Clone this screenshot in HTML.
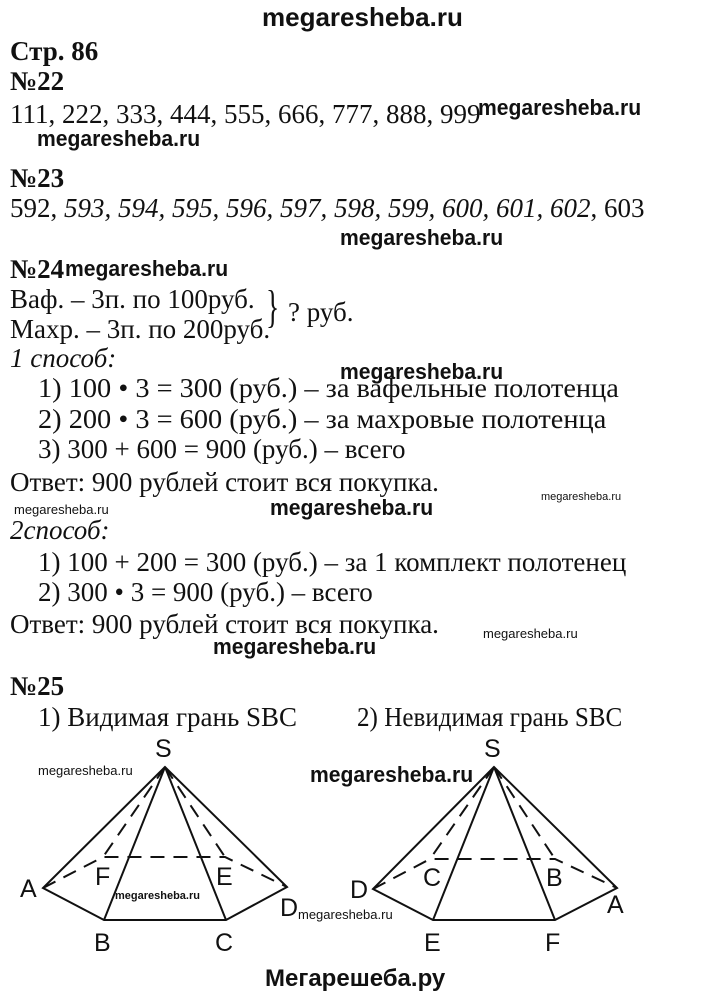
<!DOCTYPE html>
<html><head><meta charset="utf-8"><style>
body{margin:0;width:720px;height:1000px;background:#fff;position:relative;overflow:hidden;font-family:"Liberation Serif",serif;color:#111}
.t{position:absolute;white-space:nowrap;font-size:27px;line-height:28px;transform-origin:0 50%}
.b{font-weight:bold}
.i{font-style:italic}
.x{transform:scaleX(1.05)}
.w{position:absolute;white-space:nowrap;font-family:"Liberation Sans",sans-serif;font-weight:bold;font-size:22px;line-height:22px;transform:scaleX(0.96);transform-origin:0 50%}
.ws{position:absolute;white-space:nowrap;font-family:"Liberation Sans",sans-serif;font-size:13px;line-height:14px}
</style></head><body>
<div class="w" style="left:262px;top:3px;font-size:26px;line-height:28px;transform:none">megaresheba.ru</div>
<div class="t b" style="left:10px;top:37px">Стр. 86</div>
<div class="t b" style="left:10px;top:67px">№22</div>
<div class="t" style="left:10px;top:100px">111, 222, 333, 444, 555, 666, 777, 888, 999</div>
<div class="w" style="left:478px;top:97px">megaresheba.ru</div>
<div class="w" style="left:37px;top:128px">megaresheba.ru</div>
<div class="t b" style="left:10px;top:164px">№23</div>
<div class="t" style="left:10px;top:194px">592, <i>593, 594, 595, 596, 597, 598, 599, 600, 601, 602</i>, 603</div>
<div class="w" style="left:340px;top:227px">megaresheba.ru</div>
<div class="t b" style="left:10px;top:255px">№24</div>
<div class="w" style="left:65px;top:258px">megaresheba.ru</div>
<div class="t" style="left:10px;top:285px">Ваф. – 3п. по 100руб.</div>
<div class="t" style="left:10px;top:315px">Махр. – 3п. по 200руб.</div>
<div class="t" style="left:266px;top:281px;font-size:46px;line-height:52px;transform:scaleX(0.6)">}</div>
<div class="t" style="left:288px;top:298px">? руб.</div>
<div class="t i" style="left:10px;top:344px">1 способ:</div>
<div class="w" style="left:340px;top:361px">megaresheba.ru</div>
<div class="t x" style="left:38px;top:374px">1) 100 • 3 = 300 (руб.) – за вафельные полотенца</div>
<div class="t x" style="left:38px;top:405px">2) 200 • 3 = 600 (руб.) – за махровые полотенца</div>
<div class="t" style="left:38px;top:435px">3) 300 + 600 = 900 (руб.) – всего</div>
<div class="t" style="left:10px;top:468px">Ответ: 900 рублей стоит вся покупка.</div>
<div class="ws" style="left:541px;top:490px;font-size:11px">megaresheba.ru</div>
<div class="ws" style="left:14px;top:503px">megaresheba.ru</div>
<div class="w" style="left:270px;top:497px">megaresheba.ru</div>
<div class="t i" style="left:10px;top:516px">2способ:</div>
<div class="t" style="left:38px;top:548px">1) 100 + 200 = 300 (руб.) – за 1 комплект полотенец</div>
<div class="t" style="left:38px;top:578px">2) 300 • 3 = 900 (руб.) – всего</div>
<div class="t" style="left:10px;top:610px">Ответ: 900 рублей стоит вся покупка.</div>
<div class="ws" style="left:483px;top:627px">megaresheba.ru</div>
<div class="w" style="left:213px;top:636px">megaresheba.ru</div>
<div class="t b" style="left:10px;top:672px">№25</div>
<div class="t" style="left:38px;top:703px">1) Видимая грань SBC</div>
<div class="t" style="left:357px;top:703px;transform:scaleX(0.93)">2) Невидимая грань SBC</div>
<div class="ws" style="left:38px;top:764px">megaresheba.ru</div>
<div class="w" style="left:310px;top:764px">megaresheba.ru</div>
<div class="ws" style="left:115px;top:889px;font-size:11px;font-weight:bold">megaresheba.ru</div>
<div class="ws" style="left:298px;top:908px">megaresheba.ru</div>
<svg width="720" height="1000" style="position:absolute;left:0;top:0" font-family="Liberation Sans,sans-serif" font-size="25" fill="#111">
<g stroke="#111" stroke-width="2" fill="none">
<path d="M165,767 L43,888 L104,920 L226,920 L287,887 Z M165,767 L104,920 M165,767 L226,920"/>
<path stroke-dasharray="14,9" d="M43,888 L103,857 L225,857 L287,887 M165,767 L103,857 M165,767 L225,857"/>
<path d="M494,767 L373,889 L433,920 L555,920 L617,888 Z M494,767 L433,920 M494,767 L555,920"/>
<path stroke-dasharray="14,9" d="M373,889 L430,859 L555,859 L617,888 M494,767 L430,859 M494,767 L555,859"/>
</g>
<text x="155" y="757">S</text><text x="20" y="897">A</text><text x="94" y="951">B</text><text x="215" y="951">C</text>
<text x="280" y="916">D</text><text x="95" y="885">F</text><text x="216" y="885">E</text>
<text x="484" y="757">S</text><text x="350" y="898">D</text><text x="424" y="951">E</text><text x="545" y="951">F</text>
<text x="607" y="913">A</text><text x="423" y="886">C</text><text x="546" y="886">B</text>
</svg>
<div class="w" style="left:265px;top:968px;font-size:24px;transform:none">Мегарешеба.ру</div>
</body></html>
